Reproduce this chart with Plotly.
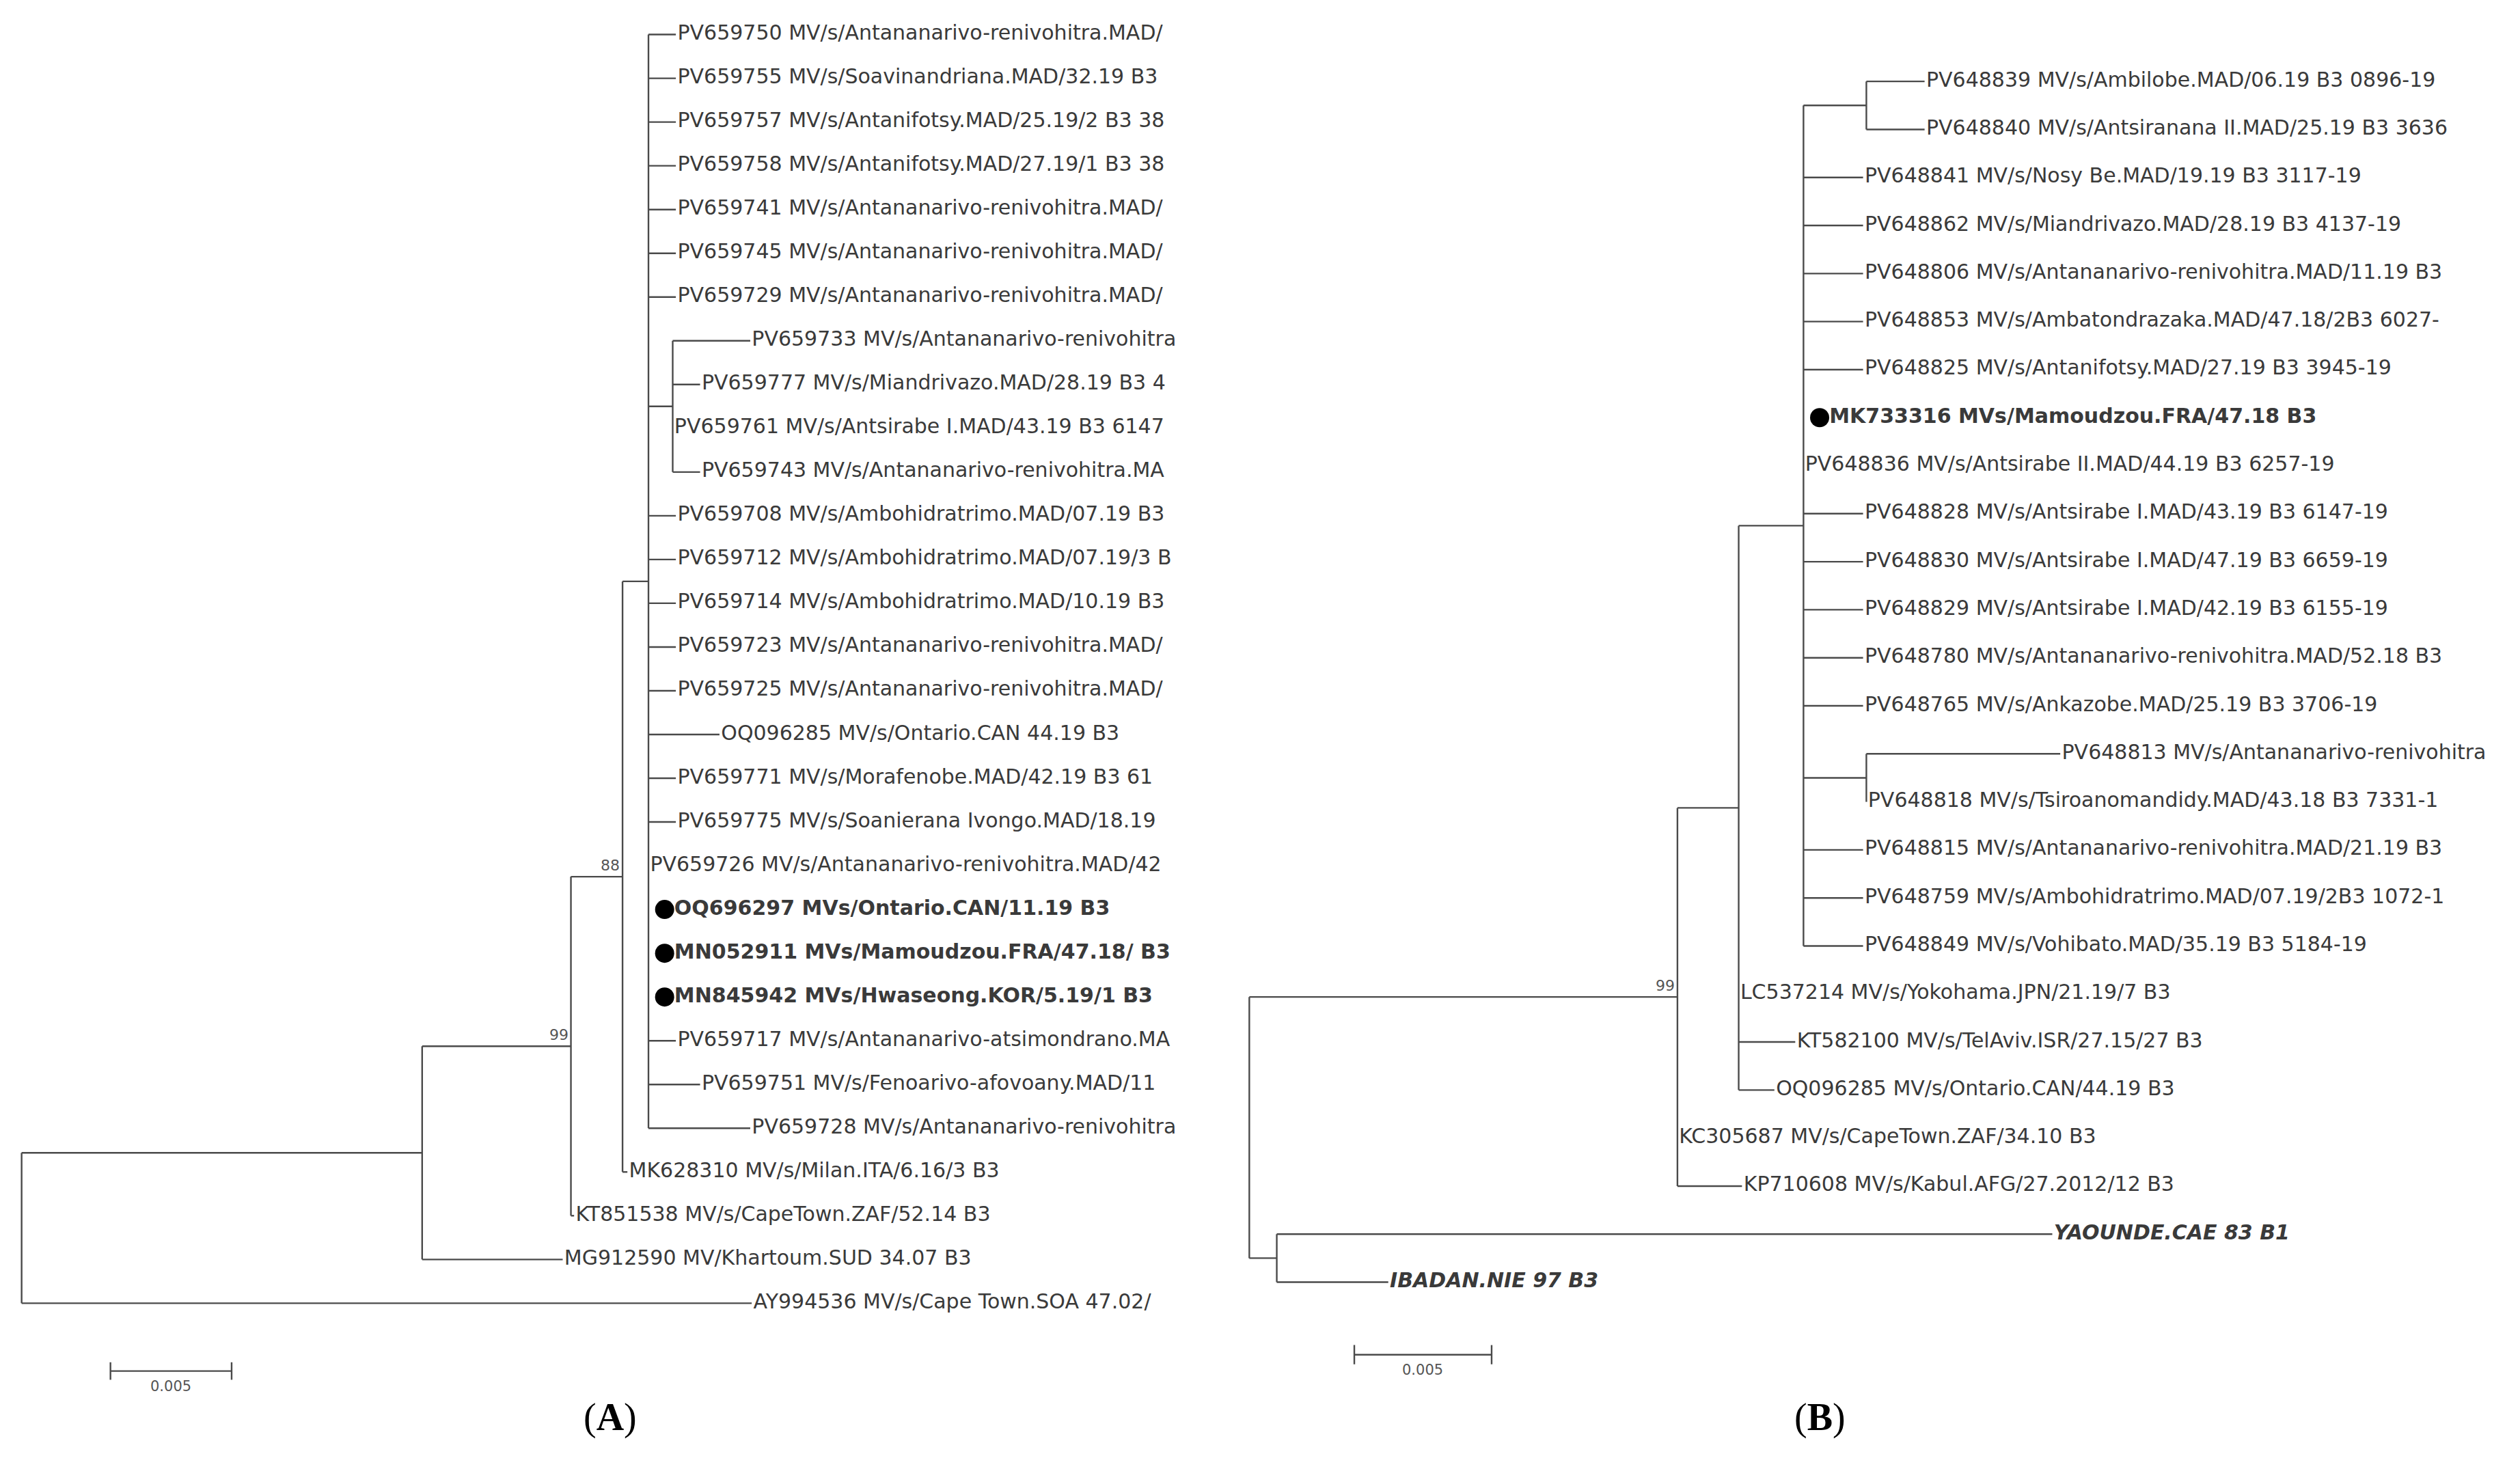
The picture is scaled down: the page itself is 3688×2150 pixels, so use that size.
import plotly.graph_objects as go

# ---------------- Panel A tree ----------------
a_nodes = ["rA", "a1", "a99", "a88", "aMain", "aSub"]
a_parent = [None, "rA", "a1", "a99", "a88", "aMain"]
a_depth = [0.0, 0.01653, 0.02267, 0.0248, 0.02587, 0.02687]

a_leaf_labels = [
    "PV659750 MV/s/Antananarivo-renivohitra.MAD/",
    "PV659755 MV/s/Soavinandriana.MAD/32.19 B3",
    "PV659757 MV/s/Antanifotsy.MAD/25.19/2 B3 38",
    "PV659758 MV/s/Antanifotsy.MAD/27.19/1 B3 38",
    "PV659741 MV/s/Antananarivo-renivohitra.MAD/",
    "PV659745 MV/s/Antananarivo-renivohitra.MAD/",
    "PV659729 MV/s/Antananarivo-renivohitra.MAD/",
    "PV659733 MV/s/Antananarivo-renivohitra",
    "PV659777 MV/s/Miandrivazo.MAD/28.19 B3 4",
    "PV659761 MV/s/Antsirabe I.MAD/43.19 B3 6147",
    "PV659743 MV/s/Antananarivo-renivohitra.MA",
    "PV659708 MV/s/Ambohidratrimo.MAD/07.19 B3",
    "PV659712 MV/s/Ambohidratrimo.MAD/07.19/3 B",
    "PV659714 MV/s/Ambohidratrimo.MAD/10.19 B3",
    "PV659723 MV/s/Antananarivo-renivohitra.MAD/",
    "PV659725 MV/s/Antananarivo-renivohitra.MAD/",
    "OQ096285 MV/s/Ontario.CAN 44.19 B3",
    "PV659771 MV/s/Morafenobe.MAD/42.19 B3 61",
    "PV659775 MV/s/Soanierana Ivongo.MAD/18.19",
    "PV659726 MV/s/Antananarivo-renivohitra.MAD/42",
    "OQ696297 MVs/Ontario.CAN/11.19 B3",
    "MN052911 MVs/Mamoudzou.FRA/47.18/ B3",
    "MN845942 MVs/Hwaseong.KOR/5.19/1 B3",
    "PV659717 MV/s/Antananarivo-atsimondrano.MA",
    "PV659751 MV/s/Fenoarivo-afovoany.MAD/11",
    "PV659728 MV/s/Antananarivo-renivohitra",
    "MK628310 MV/s/Milan.ITA/6.16/3 B3",
    "KT851538 MV/s/CapeTown.ZAF/52.14 B3",
    "MG912590 MV/Khartoum.SUD 34.07 B3",
    "AY994536 MV/s/Cape Town.SOA 47.02/",
]
a_leaf_parent = ["aMain"] * 7 + ["aSub"] * 4 + ["aMain"] * 15 + ["a88", "a99", "a1", "rA"]
a_leaf_depth = [0.0270, 0.0270, 0.0270, 0.0270, 0.0270, 0.0270, 0.0270,
                0.03007, 0.0280, 0.02687, 0.0280,
                0.0270, 0.0270, 0.0270, 0.0270, 0.0270, 0.0288, 0.0270, 0.0270,
                0.02587, 0.02587, 0.02587, 0.02587, 0.0270, 0.0280, 0.03007,
                0.0250, 0.0228, 0.02233, 0.03013]
a_marked = [20, 21, 22]
a_support = {"a99": "99", "a88": "88"}

# ---------------- Panel B tree ----------------
b_nodes = ["rB", "bOut", "b99", "b1073", "bMain", "bPair", "bSub"]
b_parent = [None, "rB", "rB", "b99", "b1073", "bMain", "bMain"]
b_depth = [0.0, 0.0010, 0.01559, 0.01782, 0.02018, 0.02247, 0.02247]

b_leaf_labels = [
    "PV648839 MV/s/Ambilobe.MAD/06.19 B3 0896-19",
    "PV648840 MV/s/Antsiranana II.MAD/25.19 B3 3636",
    "PV648841 MV/s/Nosy Be.MAD/19.19 B3 3117-19",
    "PV648862 MV/s/Miandrivazo.MAD/28.19 B3 4137-19",
    "PV648806 MV/s/Antananarivo-renivohitra.MAD/11.19 B3",
    "PV648853 MV/s/Ambatondrazaka.MAD/47.18/2B3 6027-",
    "PV648825 MV/s/Antanifotsy.MAD/27.19 B3 3945-19",
    "MK733316 MVs/Mamoudzou.FRA/47.18 B3",
    "PV648836 MV/s/Antsirabe II.MAD/44.19 B3 6257-19",
    "PV648828 MV/s/Antsirabe I.MAD/43.19 B3 6147-19",
    "PV648830 MV/s/Antsirabe I.MAD/47.19 B3 6659-19",
    "PV648829 MV/s/Antsirabe I.MAD/42.19 B3 6155-19",
    "PV648780 MV/s/Antananarivo-renivohitra.MAD/52.18 B3",
    "PV648765 MV/s/Ankazobe.MAD/25.19 B3 3706-19",
    "PV648813 MV/s/Antananarivo-renivohitra",
    "PV648818 MV/s/Tsiroanomandidy.MAD/43.18 B3 7331-1",
    "PV648815 MV/s/Antananarivo-renivohitra.MAD/21.19 B3",
    "PV648759 MV/s/Ambohidratrimo.MAD/07.19/2B3 1072-1",
    "PV648849 MV/s/Vohibato.MAD/35.19 B3 5184-19",
    "LC537214 MV/s/Yokohama.JPN/21.19/7 B3",
    "KT582100 MV/s/TelAviv.ISR/27.15/27 B3",
    "OQ096285 MV/s/Ontario.CAN/44.19 B3",
    "KC305687 MV/s/CapeTown.ZAF/34.10 B3",
    "KP710608 MV/s/Kabul.AFG/27.2012/12 B3",
    "YAOUNDE.CAE 83 B1",
    "IBADAN.NIE 97 B3",
]
b_leaf_parent = ["bPair", "bPair"] + ["bMain"] * 12 + ["bSub", "bSub"] + ["bMain"] * 3 \
    + ["b1073"] * 3 + ["b99", "b99", "bOut", "bOut"]
b_leaf_depth = [0.02459, 0.02459] + [0.02235] * 5 + [0.02018, 0.02018] + [0.02235] * 5 \
    + [0.02953, 0.02247] + [0.02235] * 3 + [0.01782, 0.01988, 0.01912, 0.01559, 0.01794,
                                            0.02924, 0.00506]
b_marked = [7]
b_italic = [24, 25]
b_support = {"b99": "99"}

scale_len = 0.005

LINE = "#4a4a4a"
TXT = "#3a3a3a"
FONT = "DejaVu Sans, Arial, sans-serif"


def build(nodes, parent, depth, labels, lparent, ldepth):
    n = len(labels)
    dep = dict(zip(nodes, depth))
    par = dict(zip(nodes, parent))
    for i in range(n):
        dep["L%d" % i] = ldepth[i]
        par["L%d" % i] = lparent[i]
    ypos = {"L%d" % i: float(i) for i in range(n)}
    children = {k: [] for k in dep}
    for k, p in par.items():
        if p is not None:
            children[p].append(k)

    def gety(k):
        if k in ypos:
            return ypos[k]
        cs = [gety(c) for c in children[k]]
        ypos[k] = (min(cs) + max(cs)) / 2
        return ypos[k]
    for k in dep:
        gety(k)
    xs, ys = [], []
    for k, p in par.items():
        if p is not None:
            xs += [dep[p], dep[k], None]
            ys += [ypos[k], ypos[k], None]
    for k, cs in children.items():
        if cs:
            cy = [ypos[c] for c in cs]
            xs += [dep[k], dep[k], None]
            ys += [min(cy), max(cy), None]
    return xs, ys, dep, ypos


fig = go.Figure()
panels = [
    dict(nodes=a_nodes, parent=a_parent, depth=a_depth, labels=a_leaf_labels,
         lparent=a_leaf_parent, ldepth=a_leaf_depth, marked=a_marked, italic=[],
         support=a_support, xa="x", ya="y", pxunit=0.005 / 75),
    dict(nodes=b_nodes, parent=b_parent, depth=b_depth, labels=b_leaf_labels,
         lparent=b_leaf_parent, ldepth=b_leaf_depth, marked=b_marked, italic=b_italic,
         support=b_support, xa="x2", ya="y2", pxunit=0.005 / 85),
]

for P in panels:
    xs, ys, dep, ypos = build(P["nodes"], P["parent"], P["depth"], P["labels"],
                              P["lparent"], P["ldepth"])
    fig.add_trace(go.Scatter(x=xs, y=ys, mode="lines", xaxis=P["xa"], yaxis=P["ya"],
                             line=dict(color=LINE, width=2.4), hoverinfo="skip",
                             showlegend=False))
    u = P["pxunit"]
    tx, ty, tt = [], [], []
    for i, lab in enumerate(P["labels"]):
        x0 = P["ldepth"][i]
        if i in P["marked"]:
            fig.add_trace(go.Scatter(x=[x0 + 10 * u], y=[i], mode="markers",
                                     xaxis=P["xa"], yaxis=P["ya"],
                                     marker=dict(color="black", size=28),
                                     hoverinfo="skip", showlegend=False))
            tx.append(x0 + 16 * u)
            tt.append("<b>" + lab + "</b>")
        elif i in P["italic"]:
            tx.append(x0 + 1 * u)
            tt.append("<b><i>" + lab + "</i></b>")
        else:
            tx.append(x0 + 1 * u)
            tt.append(lab)
        ty.append(i)
    fig.add_trace(go.Scatter(x=tx, y=ty, text=tt, mode="text", textposition="middle right",
                             xaxis=P["xa"], yaxis=P["ya"], cliponaxis=True,
                             textfont=dict(family=FONT, size=30, color=TXT),
                             hoverinfo="skip", showlegend=False))
    for k, s in P["support"].items():
        fig.add_annotation(x=dep[k], y=ypos[k], text=s, xref=P["xa"], yref=P["ya"],
                           xanchor="right", yanchor="bottom", showarrow=False,
                           xshift=-2, yshift=2,
                           font=dict(family=FONT, size=22, color="#555"))

# scale bars
sb = [("x", "y", 55 * (0.005 / 75), 30.55), ("x2", "y2", 65 * (0.005 / 85), 26.51)]
for xa, ya, x0, yr in sb:
    fig.add_trace(go.Scatter(x=[x0, x0 + scale_len], y=[yr, yr], mode="lines",
                             xaxis=xa, yaxis=ya, line=dict(color=LINE, width=2.4),
                             hoverinfo="skip", showlegend=False))
    for xx in (x0, x0 + scale_len):
        fig.add_trace(go.Scatter(x=[xx, xx], y=[yr - 0.2, yr + 0.2], mode="lines",
                                 xaxis=xa, yaxis=ya, line=dict(color=LINE, width=2.4),
                                 hoverinfo="skip", showlegend=False))
    fig.add_annotation(x=x0 + scale_len / 2, y=yr, text="0.005", xref=xa, yref=ya,
                       yanchor="top", yshift=-8, showarrow=False,
                       font=dict(family=FONT, size=21, color="#555"))

# panel letters
for xp, letter in [(357 / 1560, "A"), (1140 / 1560, "B")]:
    fig.add_annotation(x=xp, y=1 - 888 / 909, xref="paper", yref="paper",
                       text="(<b>%s</b>)" % letter, showarrow=False,
                       font=dict(family="Liberation Serif, Times New Roman, serif",
                                 size=56, color="black"))

ax = dict(visible=False, showgrid=False, zeroline=False)
fig.update_layout(
    width=3688, height=2150, margin=dict(l=0, r=0, t=0, b=0),
    paper_bgcolor="white", plot_bgcolor="white",
    xaxis=dict(ax, domain=[0, 727 / 1560], range=[-10 * 0.005 / 75, 717 * 0.005 / 75]),
    yaxis=dict(ax, domain=[0, 1], range=[(909 - 18) / 27.07, -18 / 27.07]),
    xaxis2=dict(ax, domain=[760 / 1560, 1], range=[-10 * 0.005 / 85, 790 * 0.005 / 85],
                anchor="y2"),
    yaxis2=dict(ax, domain=[0, 1], range=[(909 - 47) / 29.72, -47 / 29.72], anchor="x2"),
)
fig.write_html("out.html")
